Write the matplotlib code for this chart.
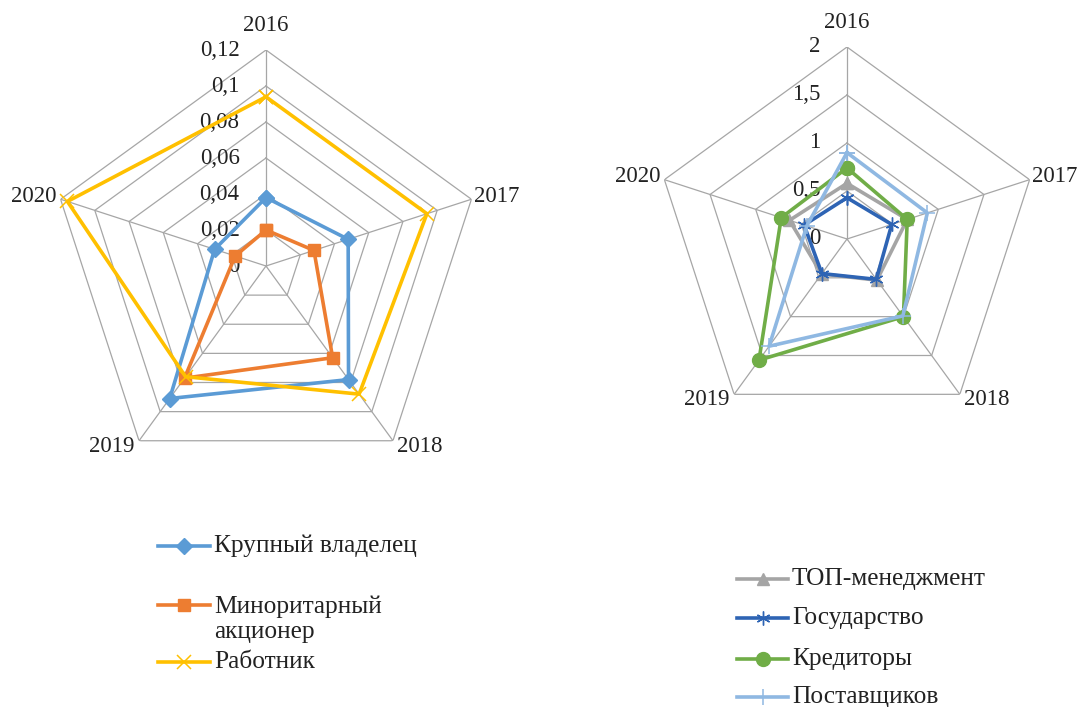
import matplotlib.pyplot as plt
import numpy as np
from matplotlib.lines import Line2D

plt.rcParams["font.family"] = ["Liberation Serif", "DejaVu Serif"]
plt.rcParams["font.size"] = 16.5

YEARS = ["2016", "2017", "2018", "2019", "2020"]

# left chart: owners and employees
LEFT_NAMES = ["Крупный владелец", "Миноритарный\nакционер", "Работник"]
MAJOR_OWNER = [0.038, 0.048, 0.078, 0.091, 0.030]
MINORITY_HOLDER = [0.020, 0.028, 0.063, 0.077, 0.018]
EMPLOYEE = [0.094, 0.094, 0.088, 0.076, 0.116]
LEFT_TICKS = [0, 0.02, 0.04, 0.06, 0.08, 0.1, 0.12]
LEFT_TICK_LABELS = ["0", "0,02", "0,04", "0,06", "0,08", "0,1", "0,12"]

# right chart: management, state, creditors, suppliers
RIGHT_NAMES = ["ТОП-менеджмент", "Государство", "Кредиторы", "Поставщиков"]
TOP_MANAGEMENT = [0.58, 0.66, 0.53, 0.45, 0.63]
STATE = [0.43, 0.49, 0.52, 0.445, 0.47]
CREDITORS = [0.74, 0.66, 1.00, 1.56, 0.72]
SUPPLIERS = [0.90, 0.88, 0.99, 1.38, 0.44]
RIGHT_TICKS = [0, 0.5, 1, 1.5, 2]
RIGHT_TICK_LABELS = ["0", "0,5", "1", "1,5", "2"]

GRID = "#A6A6A6"
TEXT = "#222222"
W, H = 1090, 707

LEFT_STYLES = [
    dict(color="#5B9BD5", marker="D", markersize=8),
    dict(color="#ED7D31", marker="s", markersize=9),
    dict(color="#FFC000", marker="x", markersize=10, markeredgewidth=1.1),
]
RIGHT_STYLES = [
    dict(color="#A5A5A5", marker="^", markersize=9),
    dict(color="#2E64B4", marker=(6, 2, 0), markersize=10, markeredgewidth=1.0),
    dict(color="#70AD47", marker="o", markersize=10),
    dict(color="#8FB8E2", marker="+", markersize=12, markeredgewidth=1.1),
]

# year label placement around the pentagon (offset in points, alignment)
YEAR_POS = [
    (0, 10, "center", "bottom"),
    (2, 2, "left", "center"),
    (3, -4, "left", "center"),
    (-3, -4, "right", "center"),
    (-3, 2, "right", "center"),
]


def draw_radar(ax, series, styles, ticks, tick_labels):
    angles = np.linspace(0, 2 * np.pi, len(YEARS), endpoint=False)
    closed = np.append(angles, angles[0])
    rmax = ticks[-1]

    ax.set_theta_offset(np.pi / 2)
    ax.set_theta_direction(-1)
    ax.set_ylim(0, rmax)
    ax.set_axis_off()

    for t in ticks[1:]:
        ax.plot(closed, [t] * len(closed), color=GRID, lw=0.9, zorder=1)
    for a in angles:
        ax.plot([a, a], [0, rmax], color=GRID, lw=0.9, zorder=1)

    for t, lab in zip(ticks, tick_labels):
        ax.annotate(lab, xy=(0, t), xytext=(-19, 0), textcoords="offset points",
                    ha="right", va="center", color=TEXT)

    for values, style in zip(series, styles):
        ax.plot(closed, list(values) + [values[0]], lw=2.6, clip_on=False,
                zorder=3, **style)

    for a, year, (dx, dy, ha, va) in zip(angles, YEARS, YEAR_POS):
        ax.annotate(year, xy=(a, rmax), xytext=(dx, dy), textcoords="offset points",
                    ha=ha, va=va, color=TEXT, annotation_clip=False)


def draw_legend(fig, names, styles, x0, x1, rows):
    for name, style, y in zip(names, styles, rows):
        yf = 1 - y / H
        fig.add_artist(Line2D([x0 / W, x1 / W], [yf, yf], lw=2.6,
                              color=style["color"]))
        fig.add_artist(Line2D([(x0 + x1) / 2 / W], [yf], lw=0, **style))
        n_lines = name.count("\n")
        fig.text((x1 + 4) / W, 1 - (y + n_lines * 14.5) / H, name,
                 ha="left", va="center", color=TEXT, fontsize=18.3,
                 linespacing=1.15)


fig = plt.figure(figsize=(W / 100, H / 100), dpi=100)

ax_left = fig.add_axes([(266 - 216) / W, (H - 266 - 216) / H, 432 / W, 432 / H],
                       projection="polar")
draw_radar(ax_left, [MAJOR_OWNER, MINORITY_HOLDER, EMPLOYEE], LEFT_STYLES,
           LEFT_TICKS, LEFT_TICK_LABELS)

ax_right = fig.add_axes([(847 - 192) / W, (H - 239 - 192) / H, 384 / W, 384 / H],
                        projection="polar")
draw_radar(ax_right, [TOP_MANAGEMENT, STATE, CREDITORS, SUPPLIERS], RIGHT_STYLES,
           RIGHT_TICKS, RIGHT_TICK_LABELS)

draw_legend(fig, LEFT_NAMES, LEFT_STYLES, 158, 210, [546, 605, 662])
draw_legend(fig, RIGHT_NAMES, RIGHT_STYLES, 737, 788, [579, 618, 659, 697])

fig.savefig("out.png", dpi=100, facecolor="white")
